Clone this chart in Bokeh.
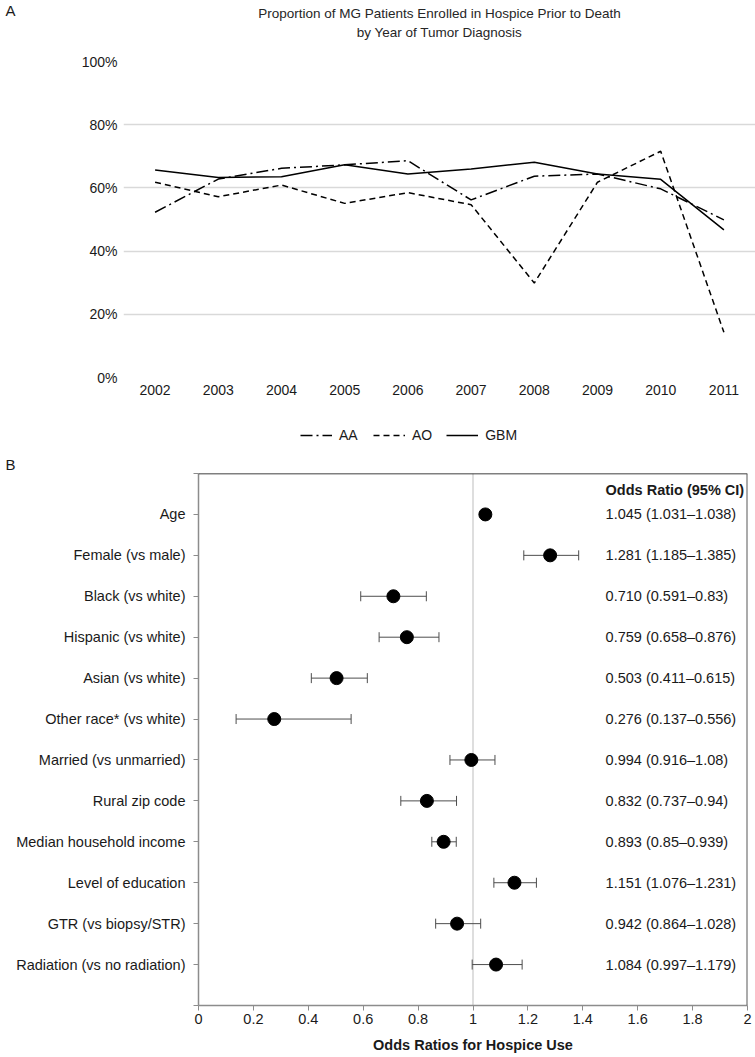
from bokeh.plotting import figure
from bokeh.models import (Range1d, FactorRange, PrintfTickFormatter, Legend, Label,
                          FixedTicker, Span, Whisker, TeeHead, ColumnDataSource)
from bokeh.core.properties import value
from bokeh.embed import file_html
from bokeh.resources import INLINE

FONT = "Liberation Sans"
DARK = "#1a1a1a"
W = 755

# ---------------- Panel A data ----------------
years = ["2002", "2003", "2004", "2005", "2006", "2007", "2008", "2009", "2010", "2011"]
aa = [52.3, 62.8, 66.2, 67.3, 68.6, 56.2, 63.7, 64.4, 59.7, 49.9]
ao = [61.8, 57.2, 60.9, 55.1, 58.5, 54.7, 29.9, 61.8, 71.6, 14.3]
gbm = [65.7, 63.3, 63.5, 67.3, 64.4, 66.0, 68.1, 64.4, 62.7, 46.7]
pct_ticks = [0, 20, 40, 60, 80, 100]
series_names = ["AA", "AO", "GBM"]

# ---------------- Panel B data ----------------
factors = ["Age", "Female (vs male)", "Black (vs white)", "Hispanic (vs white)",
           "Asian (vs white)", "Other race* (vs white)", "Married (vs unmarried)",
           "Rural zip code", "Median household income", "Level of education",
           "GTR (vs biopsy/STR)", "Radiation (vs no radiation)"]
odds = [1.045, 1.281, 0.710, 0.759, 0.503, 0.276, 0.994, 0.832, 0.893, 1.151, 0.942, 1.084]
ci_lo = [1.031, 1.185, 0.591, 0.658, 0.411, 0.137, 0.916, 0.737, 0.85, 1.076, 0.864, 0.997]
ci_hi = [1.038, 1.385, 0.83, 0.876, 0.615, 0.556, 1.08, 0.94, 0.939, 1.231, 1.028, 1.179]
or_ticks = [0, 0.2, 0.4, 0.6, 0.8, 1, 1.2, 1.4, 1.6, 1.8, 2]
or_tick_labels = ["0", "0.2", "0.4", "0.6", "0.8", "1", "1.2", "1.4", "1.6", "1.8", "2"]

styles = [dict(line_color="black", line_width=1.5, line_dash="12 4 2 4"),
          dict(line_color="black", line_width=1.5, line_dash="6 4"),
          dict(line_color="black", line_width=1.5)]


def strip(height, x_range, y_range):
    return figure(width=W, height=height, x_range=x_range, y_range=y_range,
                  x_axis_type=None, y_axis_type=None, min_border=0, outline_line_color=None,
                  toolbar_location=None, output_backend="svg", title=None)


# ================= Header (panel letter A + title) =================
p0 = strip(45, Range1d(0, W), Range1d(45, 0))
title_style = dict(text_font=FONT, text_font_size="13.5px", text_color="#262626",
                   text_align="center", text_baseline="middle")
p0.add_layout(Label(x=439, y=13,
                    text="Proportion of MG Patients Enrolled in Hospice Prior to Death",
                    **title_style))
p0.add_layout(Label(x=439, y=32, text="by Year of Tumor Diagnosis", **title_style))
p0.add_layout(Label(x=5, y=10, text="A", text_font=FONT, text_font_size="15px",
                    text_color=DARK, text_align="left", text_baseline="middle"))

# ================= Panel A =================
p1 = figure(width=W, height=365, x_range=FactorRange(*years), y_range=Range1d(0, 100),
            output_backend="svg", toolbar_location=None,
            min_border_left=123, min_border_right=0, min_border_top=16, min_border_bottom=33,
            outline_line_color=None, title=None)

for vals, st in zip([aa, ao, gbm], styles):
    p1.line(years, vals, **st)

p1.xgrid.grid_line_color = None
p1.ygrid.grid_line_color = "#d9d9d9"
p1.ygrid.grid_line_width = 1.6
p1.yaxis.ticker = FixedTicker(ticks=pct_ticks)
p1.yaxis.formatter = PrintfTickFormatter(format="%d%%")
for ax in (p1.xaxis, p1.yaxis):
    ax.axis_line_color = None
    ax.major_tick_line_color = None
    ax.minor_tick_line_color = None
    ax.major_tick_out = 0
    ax.major_tick_in = 0
    ax.major_label_text_font = FONT
    ax.major_label_text_font_size = "14px"
    ax.major_label_text_color = DARK
p1.yaxis.major_label_standoff = 6
p1.xaxis.major_label_standoff = 7

# ================= Legend strip (legend of panel A + panel letter B) =================
# the series are re-added here only as legend carriers; this strip's y-range keeps them out of view
p3 = strip(62, FactorRange(*years), Range1d(-300, -200))
legend_renderers = [p3.line(years, vals, **st) for vals, st in zip([aa, ao, gbm], styles)]
legend = Legend(items=[(n, [r]) for n, r in zip(series_names, legend_renderers)],
                orientation="horizontal", location=(300, 27),
                border_line_color=None, background_fill_alpha=0,
                label_text_font=FONT, label_text_font_size="14px", label_text_color=DARK,
                glyph_width=32, spacing=14, padding=4, margin=0, label_standoff=7)
p3.add_layout(legend)
p3.add_layout(Label(x=5, y=8, x_units="screen", y_units="screen", text="B",
                    text_font=FONT, text_font_size="15px", text_color=DARK,
                    text_align="left", text_baseline="middle"))

# ================= Panel B =================
ypos = list(range(len(factors), 0, -1))
txt = [f"{o:.3f} ({lo}\u2013{hi})" for o, lo, hi in zip(odds, ci_lo, ci_hi)]
src = ColumnDataSource(dict(y=ypos, odds=odds, lo=ci_lo, hi=ci_hi, txt=txt))

p2 = figure(width=W, height=585, x_range=Range1d(0, 2), y_range=Range1d(0, len(factors) + 1),
            output_backend="svg", toolbar_location=None,
            min_border_left=198, min_border_right=8, min_border_top=1, min_border_bottom=52,
            outline_line_color=None, title=None)
p2.grid.grid_line_color = None

p2.add_layout(Span(location=1, dimension="height", line_color="#bdbdbd", line_width=1,
                   level="underlay"))
wh = Whisker(source=src, base="y", lower="lo", upper="hi", dimension="width",
             line_color="#4d4d4d", line_width=1, level="underlay",
             upper_head=TeeHead(size=10, line_color="#4d4d4d", line_width=1),
             lower_head=TeeHead(size=10, line_color="#4d4d4d", line_width=1))
p2.add_layout(wh)
p2.scatter(x="odds", y="y", source=src, size=13, fill_color="black", line_color="black")

p2.text(x=1.483, y="y", text="txt", source=src, text_font=value(FONT),
        text_font_size="14.5px", text_color=DARK, text_align="left", text_baseline="middle")
p2.add_layout(Label(x=1.483, y=12.59, text="Odds Ratio (95% CI)", text_font=FONT,
                    text_font_size="14.5px", text_font_style="bold", text_color=DARK,
                    text_align="left", text_baseline="middle"))

p2.add_layout(Span(location=len(factors) + 1, dimension="width", line_color="black",
                   line_width=1.5))
p2.add_layout(Span(location=2, dimension="height", line_color="#595959", line_width=2))

p2.yaxis.ticker = FixedTicker(ticks=list(range(0, len(factors) + 2)))
overrides = {y: f for y, f in zip(ypos, factors)}
overrides[0] = ""
overrides[len(factors) + 1] = ""
p2.yaxis.major_label_overrides = overrides
p2.xaxis.ticker = FixedTicker(ticks=or_ticks)
p2.xaxis.major_label_overrides = dict(zip(or_ticks, or_tick_labels))
for ax in (p2.xaxis, p2.yaxis):
    ax.axis_line_color = "#8c8c8c"
    ax.axis_line_width = 1.5
    ax.major_tick_line_color = "#8c8c8c"
    ax.major_tick_out = 5
    ax.major_tick_in = 0
    ax.minor_tick_line_color = None
    ax.major_label_text_font = FONT
    ax.major_label_text_font_size = "14.5px"
    ax.major_label_text_color = DARK
p2.yaxis.major_label_standoff = 8
p2.xaxis.major_label_standoff = 3
p2.xaxis.axis_label = "Odds Ratios for Hospice Use"
p2.xaxis.axis_label_text_font = FONT
p2.xaxis.axis_label_text_font_size = "14.5px"
p2.xaxis.axis_label_text_font_style = "bold"
p2.xaxis.axis_label_text_color = DARK
p2.xaxis.axis_label_standoff = 10

open("out.html", "w").write(file_html([p0, p1, p3, p2], INLINE))
